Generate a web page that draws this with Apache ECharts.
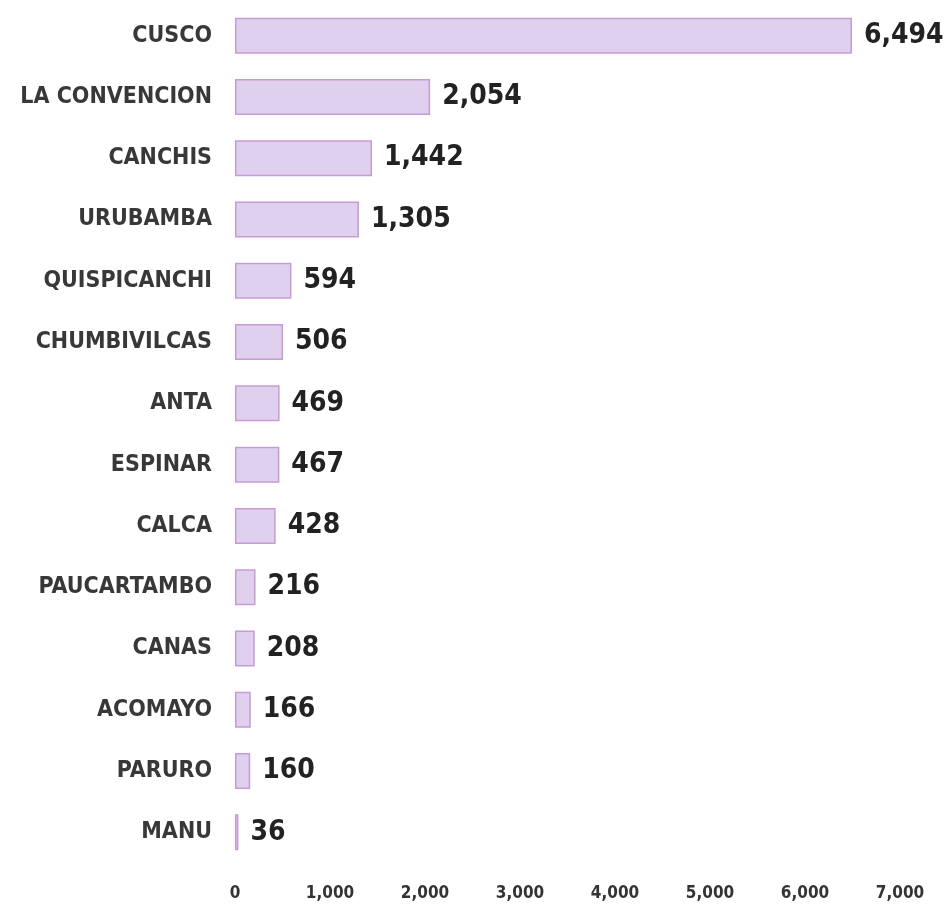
<!DOCTYPE html>
<html>
<head>
<meta charset="utf-8">
<title>Provincias Cusco</title>
<style>
body{margin:0;padding:0;background:#fff;}
#main{width:948px;height:905px;}
</style>
</head>
<body>
<div id="main"></div>
<script src="https://cdn.jsdelivr.net/npm/echarts@6/dist/echarts.min.js"></script>
<script>
var provincias = ['CUSCO','LA CONVENCION','CANCHIS','URUBAMBA','QUISPICANCHI','CHUMBIVILCAS','ANTA','ESPINAR','CALCA','PAUCARTAMBO','CANAS','ACOMAYO','PARURO','MANU'];
var valores = [6494,2054,1442,1305,594,506,469,467,428,216,208,166,160,36];
var fuente = '"DejaVu Sans Condensed","Liberation Sans Narrow","Roboto",sans-serif';

var myChart = echarts.init(document.getElementById('main'));
var option = {
  animation: false,
  grid: {left: 235, right: 48, top: 5, bottom: 42},
  xAxis: {
    type: 'value',
    min: 0,
    max: 7000,
    interval: 1000,
    axisLine: {show: false},
    axisTick: {show: false},
    splitLine: {show: false},
    axisLabel: {
      margin: 22,
      color: '#333',
      fontFamily: fuente,
      fontWeight: 'bold',
      fontSize: 17,
      formatter: function(v){ return v.toLocaleString('en-US'); }
    }
  },
  yAxis: {
    type: 'category',
    inverse: true,
    data: provincias,
    axisLine: {show: false},
    axisTick: {show: false},
    axisLabel: {
      margin: 23,
      color: '#383838',
      fontFamily: fuente,
      fontWeight: 'bold',
      fontSize: 23
    }
  },
  series: [{
    type: 'bar',
    data: valores,
    barWidth: 36,
    itemStyle: {
      color: '#dfd0ed',
      borderColor: '#c89ad6',
      borderWidth: 1.5
    },
    label: {
      show: true,
      position: 'right',
      distance: 12,
      color: '#222',
      fontFamily: fuente,
      fontWeight: 'bold',
      fontSize: 28,
      formatter: function(p){ return p.value.toLocaleString('en-US'); }
    }
  }]
};
myChart.setOption(option);
</script>
</body>
</html>
